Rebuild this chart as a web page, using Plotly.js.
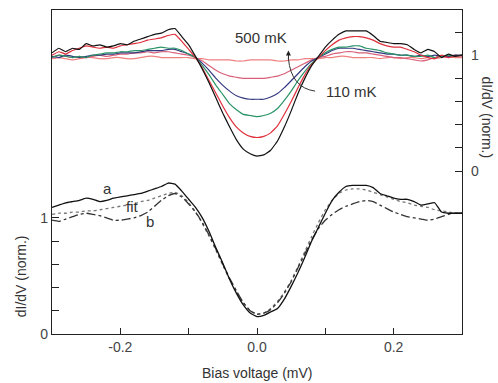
<!DOCTYPE html>
<html><head><meta charset="utf-8">
<script src="https://cdn.plot.ly/plotly-3.0.1.min.js"></script>
<style>html,body{margin:0;padding:0;background:#fff;}#plot{width:498px;height:383px;}</style>
</head><body><div id="plot"></div>
<script>
const biasV = [-0.30,-0.29,-0.28,-0.27,-0.26,-0.25,-0.24,-0.23,-0.22,-0.21,-0.20,-0.19,-0.18,-0.17,-0.16,-0.15,-0.14,-0.13,-0.12,-0.11,-0.10,
 -0.09,-0.08,-0.07,-0.06,-0.05,-0.04,-0.03,-0.02,-0.01,0.00,0.01,0.02,0.03,0.04,0.05,0.06,0.07,0.08,0.09,
 0.10,0.11,0.12,0.13,0.14,0.15,0.16,0.17,0.18,0.19,0.20,0.21,0.22,0.23,0.24,0.25,0.26,0.27,0.28,0.29,0.30];

// upper panel (right axis) temperature series, 110 mK (deepest) to 500 mK (flattest)
const tBlack = [1.02,1.06,1.03,1.06,1.05,1.10,1.08,1.09,1.07,1.08,1.10,1.09,1.12,1.14,1.16,1.18,1.19,1.22,1.23,1.16,1.09,
 0.99,0.88,0.76,0.63,0.50,0.38,0.27,0.19,0.15,0.13,0.14,0.18,0.26,0.38,0.52,0.67,0.80,0.91,0.99,
 1.07,1.13,1.18,1.21,1.21,1.21,1.21,1.17,1.12,1.11,1.10,1.10,1.09,1.05,1.02,1.05,1.03,0.98,1.01,0.99,1.00];
const tRed = [1.00,1.03,1.01,1.04,1.06,1.08,1.07,1.06,1.07,1.06,1.08,1.09,1.10,1.11,1.13,1.14,1.15,1.17,1.18,1.12,1.05,
 0.98,0.89,0.78,0.67,0.56,0.46,0.38,0.33,0.30,0.29,0.30,0.33,0.39,0.49,0.60,0.72,0.83,0.92,0.98,
 1.04,1.09,1.13,1.15,1.16,1.16,1.15,1.13,1.10,1.08,1.07,1.07,1.05,1.03,1.00,0.98,0.97,1.00,0.98,0.99,1.00];
const tGreen = [0.98,1.00,0.99,0.98,0.99,0.98,1.00,1.01,1.02,1.02,1.03,1.03,1.04,1.04,1.05,1.06,1.07,1.06,1.06,1.04,1.01,
 0.98,0.91,0.83,0.74,0.66,0.58,0.53,0.49,0.48,0.47,0.48,0.50,0.54,0.61,0.69,0.78,0.86,0.93,0.98,
 1.02,1.05,1.07,1.07,1.08,1.08,1.06,1.05,1.04,1.02,1.01,1.00,1.00,0.99,0.99,1.00,0.98,0.99,1.00,0.99,1.00];
const tBlue = [0.99,0.98,1.00,0.99,0.98,0.99,1.00,1.00,1.01,1.01,1.02,1.02,1.02,1.03,1.04,1.04,1.04,1.05,1.05,1.03,1.01,
 0.98,0.93,0.87,0.80,0.74,0.69,0.65,0.63,0.62,0.62,0.62,0.64,0.67,0.72,0.78,0.84,0.90,0.95,0.98,
 1.01,1.04,1.06,1.06,1.06,1.05,1.04,1.03,1.02,1.01,1.01,1.00,1.00,0.99,1.00,0.99,1.00,0.99,0.99,1.00,1.00];
const tPink = [0.98,1.00,0.99,0.98,0.99,0.98,0.99,1.00,0.99,1.00,1.01,1.01,1.02,1.02,1.03,1.02,1.03,1.03,1.02,1.01,1.00,
 0.98,0.95,0.91,0.87,0.84,0.82,0.81,0.80,0.80,0.80,0.80,0.81,0.82,0.84,0.87,0.90,0.93,0.96,0.98,
 0.99,1.01,1.02,1.03,1.03,1.02,1.02,1.01,1.00,0.99,0.98,0.98,0.97,0.96,0.95,0.96,0.98,0.99,0.98,1.00,0.99];
const tLight = [0.97,0.98,0.97,0.96,0.97,0.98,0.98,0.97,0.97,0.98,0.98,0.97,0.97,0.98,0.99,0.99,0.98,0.98,0.98,0.98,0.98,
 0.97,0.97,0.96,0.96,0.96,0.96,0.95,0.95,0.96,0.96,0.96,0.96,0.95,0.95,0.96,0.96,0.97,0.97,0.97,
 0.98,0.98,0.99,0.99,0.98,0.98,0.98,0.98,0.97,0.98,0.98,0.97,0.98,0.98,0.97,0.98,0.97,0.98,0.99,0.98,0.98];

// lower panel (left axis): a, fit, b
const curveA = [1.09,1.11,1.13,1.14,1.15,1.17,1.16,1.14,1.15,1.17,1.18,1.19,1.20,1.21,1.23,1.25,1.27,1.30,1.29,1.23,1.16,
 1.09,1.00,0.88,0.74,0.61,0.47,0.35,0.25,0.18,0.15,0.16,0.19,0.22,0.30,0.41,0.53,0.66,0.80,0.92,
 1.04,1.15,1.22,1.27,1.28,1.28,1.28,1.26,1.21,1.19,1.17,1.16,1.16,1.14,1.11,1.12,1.13,1.05,1.04,1.04,1.04];
const curveFit = [1.03,1.04,1.04,1.05,1.05,1.06,1.06,1.07,1.08,1.09,1.10,1.11,1.12,1.14,1.15,1.17,1.19,1.21,1.22,1.19,1.13,
 1.05,0.95,0.84,0.72,0.59,0.47,0.36,0.27,0.20,0.17,0.18,0.22,0.28,0.36,0.46,0.58,0.71,0.84,0.96,
 1.07,1.15,1.21,1.24,1.25,1.25,1.24,1.22,1.20,1.18,1.16,1.14,1.13,1.11,1.10,1.09,1.07,1.06,1.05,1.04,1.04];
const curveB = [0.98,0.97,0.99,1.01,1.03,1.04,1.03,1.02,1.00,0.98,0.98,0.99,1.00,1.02,1.05,1.10,1.15,1.19,1.21,1.18,1.12,
 1.05,0.96,0.85,0.73,0.60,0.48,0.37,0.27,0.20,0.17,0.18,0.21,0.27,0.35,0.45,0.57,0.69,0.81,0.91,
 0.98,1.03,1.07,1.10,1.12,1.14,1.15,1.14,1.11,1.08,1.05,1.03,1.01,1.00,0.99,0.98,0.99,1.01,1.03,1.04,1.04];

const xTickVals = [-0.2,-0.1,0,0.1,0.2];
const xTickText = ["-0.2","","0.0","","0.2"];
const yTickVals = [0,0.2,0.4,0.6,0.8,1];
const yTickText = ["0","","","","","1"];
const y2TickVals = [0,0.2,0.4,0.6,0.8,1,1.2];
const y2TickText = ["0","","","","","1",""];

function up(y, color){ return {x: biasV, y: y, yaxis:'y2', type:'scatter', mode:'lines',
  line:{color:color, width:1.2, shape:'spline', smoothing:0.3}, hoverinfo:'skip'}; }
function low(y, color, dash, w){ return {x: biasV, y: y, yaxis:'y', type:'scatter', mode:'lines',
  line:{color:color, width:w, dash:dash, shape:'spline', smoothing:0.4}, hoverinfo:'skip'}; }

const data = [
  up(tLight,'#f08080'), up(tPink,'#d8607a'), up(tBlue,'#35397f'), up(tGreen,'#2a9468'),
  up(tRed,'#e0303c'), up(tBlack,'#111111'),
  low(curveFit,'#777777','dot',1.3), low(curveB,'#333333','dashdot',1.3), low(curveA,'#111111','solid',1.3)
];

const tickFont = {family:'Liberation Sans, Arial, sans-serif', size:14, color:'#444'};
const layout = {
  width:498, height:383, showlegend:false,
  paper_bgcolor:'#fff', plot_bgcolor:'#fff',
  margin:{l:52, r:36, t:10, b:49},
  font:{family:'Liberation Sans, Arial, sans-serif', color:'#333'},
  xaxis:{range:[-0.3,0.3], tickvals:xTickVals, ticktext:xTickText, ticks:'inside', ticklen:6, tickcolor:'#222',
    showline:true, linecolor:'#222', linewidth:1.2, mirror:true, showgrid:false, zeroline:false, tickfont:tickFont},
  yaxis:{range:[0,2.79], tickvals:yTickVals, ticktext:yTickText, ticks:'inside', ticklen:7, tickcolor:'#222',
    showline:true, linecolor:'#222', linewidth:1.2, showgrid:false, zeroline:false, tickfont:tickFont},
  yaxis2:{range:[-1.405,1.39], overlaying:'y', side:'right', tickvals:y2TickVals, ticktext:y2TickText,
    ticks:'inside', ticklen:7, tickcolor:'#222', showline:true, linecolor:'#222', linewidth:1.2,
    showgrid:false, zeroline:false, tickfont:tickFont, ticklabelstandoff:5},
  shapes:[
    {type:'path', xref:'x', yref:'y2', path:'M 0.085,0.69 Q 0.05,0.72 0.046,0.97', line:{color:'#333', width:1}}
  ],
  annotations:[
    {xref:'paper', yref:'paper', x:-0.075, y:0.179, xanchor:'center', yanchor:'middle', text:'dI/dV (norm.)', textangle:-90, showarrow:false,
      font:{size:14, color:'#333'}},
    {xref:'paper', yref:'paper', x:1.062, y:0.667, xanchor:'center', yanchor:'middle', text:'dI/dV (norm.)', textangle:90, showarrow:false,
      font:{size:14, color:'#333'}},
    {xref:'paper', yref:'paper', x:0.5, y:-0.12, xanchor:'center', yanchor:'middle', text:'Bias voltage (mV)', showarrow:false,
      font:{size:14, color:'#333'}},
    {xref:'x', yref:'y2', x:0.006, y:1.155, xanchor:'center', yanchor:'middle', text:'500 mK', showarrow:false, font:{size:15, color:'#333'}},
    {xref:'x', yref:'y2', x:0.138, y:0.69, xanchor:'center', yanchor:'middle', text:'110 mK', showarrow:false, font:{size:15, color:'#333'}},
    {xref:'x', yref:'y2', x:0.046, y:1.04, text:'', showarrow:true, ax:0, ay:10, arrowhead:2, arrowsize:1,
      arrowwidth:1, arrowcolor:'#222', standoff:0},
    {xref:'x', yref:'y', x:-0.219, y:1.25, xanchor:'center', yanchor:'middle', text:'a', showarrow:false, font:{size:15, color:'#333'}},
    {xref:'x', yref:'y', x:-0.182, y:1.095, xanchor:'center', yanchor:'middle', text:'fit', showarrow:false, font:{size:15, color:'#333'}},
    {xref:'x', yref:'y', x:-0.156, y:0.965, xanchor:'center', yanchor:'middle', text:'b', showarrow:false, font:{size:15, color:'#333'}}
  ]
};
Plotly.newPlot('plot', data, layout, {staticPlot:true, displayModeBar:false});
</script></body></html>
